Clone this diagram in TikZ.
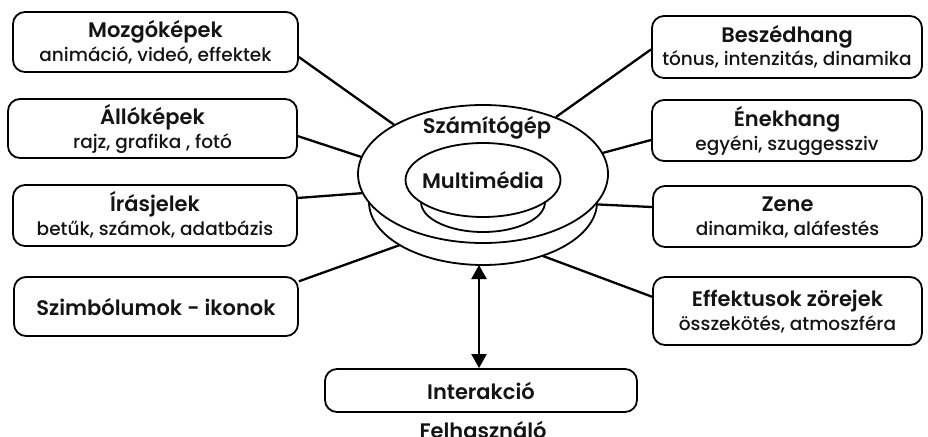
\documentclass[tikz,border=0pt]{standalone}
\usepackage{fontspec}
\setmainfont{Poppins}
\newfontfamily\semifont{Poppins SemiBold}
\newfontfamily\medfont{Poppins Medium}
\usetikzlibrary{shapes.geometric,arrows.meta}

\newcommand{\boxtitle}{\semifont\fontsize{21}{24}\selectfont}
\newcommand{\boxsub}{\medfont\fontsize{18.5}{21}\selectfont}
% two-line box text with fixed baseline distance
\newcommand{\twoline}[2]{%
  {\boxtitle\rule[-6pt]{0pt}{25pt}#1}\\
  {\boxsub\rule[-5pt]{0pt}{22pt}#2}}

\tikzset{
  topic/.style={draw, line width=1.8pt, rounded corners=12pt, inner sep=0pt,
                align=center, text=black!92},
  link/.style={line width=2.3pt},
  disc/.style={ellipse, draw, line width=1.8pt, inner sep=0pt},
  lbl/.style={inner sep=0pt, text=black!92},
  bigtip/.tip={Triangle[length=14pt,width=15pt]},
}

\begin{document}
\begin{tikzpicture}[x=1pt, y=-1pt]
  \useasboundingbox (0,0) rectangle (928,436);

  % left column
  \node[topic, minimum width=285pt, minimum height=60pt] (mozgo) at (155.5,42)
    {\twoline{Mozgóképek}{animáció, videó, effektek}};
  \node[topic, minimum width=289pt, minimum height=59pt] (allo) at (152.5,128.5)
    {\twoline{Állóképek}{rajz, grafika , fotó}};
  \node[topic, minimum width=284pt, minimum height=61pt] (iras) at (155,215.5)
    {\twoline{Írásjelek}{betűk, számok, adatbázis}};
  \node[topic, minimum width=284pt, minimum height=59pt] (szimb) at (156,306.5)
    {\boxtitle Szimbólumok - ikonok};

  % right column
  \node[topic, minimum width=270pt, minimum height=62pt] (beszed) at (787,47)
    {\twoline{Beszédhang}{tónus, intenzitás, dinamika}};
  \node[topic, minimum width=270pt, minimum height=61pt] (enek) at (787,130.5)
    {\twoline{Énekhang}{egyéni, szuggessziv}};
  \node[topic, minimum width=269pt, minimum height=61pt] (zene) at (787.5,216.5)
    {\twoline{Zene}{dinamika, aláfestés}};
  \node[topic, minimum width=269pt, minimum height=68pt] (effekt) at (787.5,311)
    {\twoline{Effektusok zörejek}{összekötés, atmoszféra}};

  % bottom
  \node[topic, minimum width=312pt, minimum height=43pt] (inter) at (481,390.5)
    {\boxtitle Interakció};
  \node[lbl, anchor=base] (user) at (483,438) {\boxtitle Felhasználó};

  % central computer / multimedia bowl
  \node[disc, minimum width=250pt, minimum height=138pt] (cpu) at (483,174) {};
  \draw[line width=1.8pt] (369,202) arc[start angle=180, end angle=360,
        x radius=114pt, y radius=63pt];
  \node[disc, minimum width=155pt, minimum height=74pt] (mm) at (483,180) {};
  \draw[line width=1.8pt] (421,202) arc[start angle=180, end angle=360,
        x radius=62pt, y radius=30pt];
  \node[lbl] (cputxt) at (487,128) {\boxtitle Számítógép};
  \node[lbl] (mmtxt) at (483,180) {\boxtitle Multimédia};

  % contact points on the lower rim of the bowl
  \coordinate (rimL) at (400,245);
  \coordinate (rimR) at (543,256);
  \coordinate (rimB) at (479,265);

  % connectors
  \draw[link] (mozgo.-6)  -- (cpu.151);
  \draw[link] (allo.-3.4) -- (cpu.172);
  \draw[link] (iras.7)    -- (cpu.189);
  \draw[link] (szimb.10)  -- (rimL);
  \draw[link] (beszed.181.3) -- (cpu.38);
  \draw[link] (enek.184)  -- (cpu.10);
  \draw[link] (zene.176)  -- (cpu.345);
  \draw[link] (effekt.174) -- (rimR);
  \draw[link, bigtip-bigtip] (rimB) -- (rimB |- inter.north);
\end{tikzpicture}
\end{document}
